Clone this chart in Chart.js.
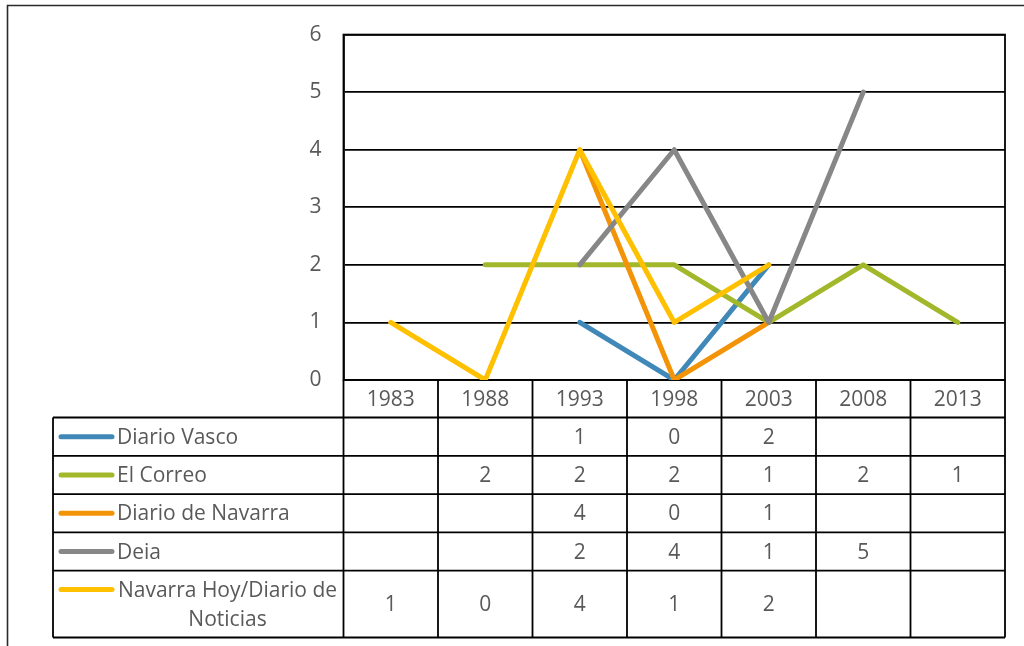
<!DOCTYPE html>
<html><head><meta charset="utf-8">
<script src="https://cdn.jsdelivr.net/npm/chart.js@4/dist/chart.umd.min.js"></script>
<style>html,body{margin:0;padding:0;background:#fff;overflow:hidden}#wrap{position:relative;width:1024px;height:646px}</style>
</head><body><div id="wrap"><canvas id="c" width="1024" height="646"></canvas></div>
<script>
const years = ['1983','1988','1993','1998','2003','2008','2013'];
const seriesNames = ['Diario Vasco','El Correo','Diario de Navarra','Deia','Navarra Hoy/Diario de Noticias'];
const diarioVasco   = [null, null, 1, 0, 2, null, null];
const elCorreo      = [null, 2, 2, 2, 1, 2, 1];
const diarioNavarra = [null, null, 4, 0, 1, null, null];
const deia          = [null, null, 2, 4, 1, 5, null];
const navarraHoy    = [1, 0, 4, 1, 2, null, null];
const yTicks = [0, 1, 2, 3, 4, 5, 6];
const colors = ['#3f88b7', '#a3b72b', '#f39408', '#878787', '#ffc000'];

const seriesValues = [diarioVasco, elCorreo, diarioNavarra, deia, navarraHoy];
const FONT = '21px "Open Sans"';
const TXT = '#595959';

const tablePlugin = {
  id: 'dataTable',
  beforeDraw(chart) {
    const ctx = chart.ctx;
    ctx.save();
    ctx.strokeStyle = '#2a2a2a';
    ctx.lineWidth = 1.6;
    ctx.beginPath();
    ctx.moveTo(7.5, 646); ctx.lineTo(7.5, 5.5); ctx.lineTo(1024, 5.5);
    ctx.stroke();
    ctx.restore();
  },
  beforeDatasetsDraw(chart) {
    const ctx = chart.ctx, a = chart.chartArea;
    ctx.save();
    ctx.strokeStyle = '#000';
    ctx.lineWidth = 1.8;
    ctx.strokeRect(a.left, a.top, a.right - a.left, a.bottom - a.top);
    ctx.restore();
  },
  afterDraw(chart) {
    const ctx = chart.ctx, a = chart.chartArea, xs = chart.scales.x;
    const step = xs.getPixelForValue(1) - xs.getPixelForValue(0);
    const tableLeft = 53;
    const headerBottom = a.bottom + 37.5;
    const rowH = 38.3;
    const rowTops = [];
    for (let i = 0; i < seriesNames.length; i++) rowTops.push(headerBottom + i * rowH);
    const tableBottom = 637.5;
    const rowBottoms = rowTops.slice(1).concat([tableBottom]);

    ctx.save();
    ctx.strokeStyle = '#000';
    ctx.lineWidth = 1.8;
    ctx.beginPath();
    for (let i = 0; i <= years.length; i++) {
      const x = xs.getPixelForValue(0) - step / 2 + i * step;
      ctx.moveTo(x, a.bottom); ctx.lineTo(x, tableBottom);
    }
    ctx.moveTo(tableLeft, headerBottom); ctx.lineTo(tableLeft, tableBottom);
    ctx.moveTo(tableLeft, headerBottom); ctx.lineTo(a.right, headerBottom);
    rowBottoms.forEach(y => { ctx.moveTo(tableLeft, y); ctx.lineTo(a.right, y); });
    ctx.stroke();

    ctx.font = FONT;
    ctx.fillStyle = TXT;
    ctx.textAlign = 'center';
    ctx.textBaseline = 'middle';
    years.forEach((yr, i) => ctx.fillText(yr, xs.getPixelForValue(i), (a.bottom + headerBottom) / 2 + 1));
    const textL = 117, textR = 340;
    seriesNames.forEach((name, r) => {
      const cy = (rowTops[r] + rowBottoms[r]) / 2;
      let lines = [name];
      if (ctx.measureText(name).width > textR - textL) {
        const words = name.split(' ');
        lines = [];
        let cur = '';
        words.forEach(w => {
          const t = cur ? cur + ' ' + w : w;
          if (ctx.measureText(t).width > textR - textL && cur) { lines.push(cur); cur = w; } else cur = t;
        });
        if (cur) lines.push(cur);
      }
      const lh = 29;
      const firstY = cy - (lines.length - 1) * lh / 2;
      ctx.strokeStyle = colors[r];
      ctx.lineWidth = 5;
      ctx.lineCap = 'round';
      ctx.beginPath();
      ctx.moveTo(61, firstY); ctx.lineTo(112, firstY);
      ctx.stroke();
      ctx.fillStyle = TXT;
      if (lines.length === 1) {
        ctx.textAlign = 'left';
        ctx.fillText(name, textL, cy + 1);
      } else {
        ctx.textAlign = 'center';
        lines.forEach((ln, k) => ctx.fillText(ln, (textL + textR) / 2 - 1, firstY + k * lh + 1));
      }
      ctx.textAlign = 'center';
      seriesValues[r].forEach((v, i) => {
        if (v !== null) ctx.fillText(String(v), xs.getPixelForValue(i), cy + 1);
      });
    });
    ctx.restore();
  }
};

new Chart(document.getElementById('c'), {
  type: 'line',
  data: {
    labels: years,
    datasets: seriesNames.map((n, i) => ({
      label: n,
      data: seriesValues[i],
      borderColor: colors[i],
      backgroundColor: colors[i],
      borderWidth: 5,
      borderCapStyle: 'round',
      borderJoinStyle: 'round',
      pointRadius: 0,
      tension: 0,
      spanGaps: false,
      fill: false,
      order: seriesNames.length - 1 - i
    }))
  },
  options: {
    responsive: false,
    animation: false,
    devicePixelRatio: 1,
    layout: { padding: { left: 0, right: 19, top: 34, bottom: 266 } },
    plugins: { legend: { display: false }, tooltip: { enabled: false } },
    scales: {
      x: { type: 'category', offset: true, display: false },
      y: {
        min: yTicks[0], max: yTicks[yTicks.length - 1],
        ticks: { stepSize: 1, color: TXT, font: { family: 'Open Sans', size: 21 }, padding: 22 },
        grid: { color: '#000', lineWidth: 1.8, drawTicks: false },
        border: { display: true, color: '#000', width: 1.8 },
        afterFit: s => { s.width = 343.5; }
      }
    }
  },
  plugins: [tablePlugin]
});
</script></body></html>
